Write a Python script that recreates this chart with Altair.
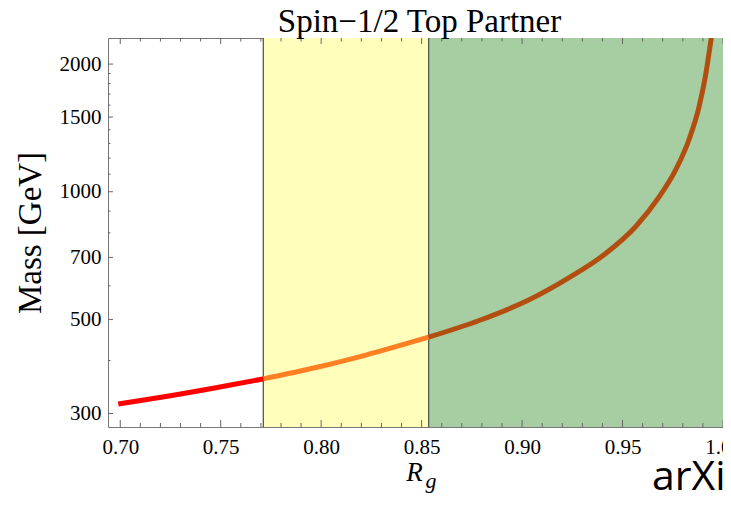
import altair as alt
import pandas as pd

# ---- data ----
R_vals = [0.699, 0.7227, 0.7476, 0.7712, 0.7974, 0.8222, 0.8535, 0.8786, 0.9035,
          0.9234, 0.9416, 0.9566, 0.9682, 0.9765, 0.9831, 0.9881, 0.9914, 0.9939, 0.9948]
M_vals = [316, 329, 345, 362, 385, 412, 454, 497, 556,
          627, 715, 828, 972, 1127, 1328, 1587, 1890, 2260, 2410]

band_starts = [0.7712, 0.8535]
band_ends = [0.8535, 1.0]
band_colors = ["#FFFFBB", "#A7CEA3"]

x_major = [0.70, 0.75, 0.80, 0.85, 0.90, 0.95, 1.00]
x_minor = [0.71, 0.72, 0.73, 0.74, 0.76, 0.77, 0.78, 0.79, 0.81, 0.82, 0.83, 0.84,
           0.86, 0.87, 0.88, 0.89, 0.91, 0.92, 0.93, 0.94, 0.96, 0.97, 0.98, 0.99]
y_major = [300, 500, 700, 1000, 1500, 2000]
y_minor = [400, 600, 800, 900, 1100, 1200, 1300, 1400, 1600, 1700, 1800, 1900]

seg_colors = ["#FF0000", "#FF7F24", "#B24F10"]

# ---- layout ----
W, H = 615, 389
XDOM = [0.6939, 1.0]
YDOM = [278.8, 2304]
SERIF = "Liberation Serif"

xs = alt.Scale(domain=XDOM, nice=False, zero=False)
ys = alt.Scale(type="log", domain=YDOM, nice=False)

# three line pieces, boundary points shared by neighbouring pieces
pts = list(zip(R_vals, M_vals))
seg_dfs = [
    pd.DataFrame([{"R": r, "M": m} for r, m in pts if r <= band_starts[0]]),
    pd.DataFrame([{"R": r, "M": m} for r, m in pts if band_starts[0] <= r <= band_starts[1]]),
    pd.DataFrame([{"R": r, "M": m} for r, m in pts if r >= band_starts[1]]),
]

# identical axis definition given to every layer so the merged axis stays enabled
xaxis = alt.Axis(values=x_major, format=".2f", ticks=False, domain=False, grid=False,
                 orient="bottom",
                 labelFont=SERIF, labelFontSize=21, labelColor="black",
                 labelPadding=9, labelFlush=False,
                 title="R", titleFont=SERIF, titleFontSize=27, titleFontStyle="italic",
                 titleFontWeight="normal", titleColor="black",
                 titleX=306, titleY=53, titleBaseline="alphabetic", titleAlign="center")
yaxis = alt.Axis(values=y_major, format="d", ticks=False, domain=False, grid=False,
                 orient="left",
                 labelFont=SERIF, labelFontSize=21, labelColor="black", labelPadding=7,
                 title="Mass [GeV]", titleFont=SERIF, titleFontSize=33,
                 titleFontWeight="normal", titleColor="black",
                 titleX=-68, titleY=H / 2, titleBaseline="alphabetic", titleAlign="center",
                 titleAngle=270)

layers = []
for s, e, c in zip(band_starts, band_ends, band_colors):
    bdf = pd.DataFrame({"x0": [s], "x1": [e]})
    layers.append(alt.Chart(bdf).mark_rect(color=c).encode(
        x=alt.X("x0:Q", scale=xs, axis=xaxis), x2="x1:Q",
        y=alt.value(0), y2=alt.value(H)))

edge_df = pd.DataFrame({"x": band_starts})
layers.append(alt.Chart(edge_df).mark_rule(color="#555", strokeWidth=1.3).encode(
    x=alt.X("x:Q", scale=xs, axis=xaxis), y=alt.value(0), y2=alt.value(H)))

def xticks(vals, y0, y1):
    return alt.Chart(pd.DataFrame({"v": vals})).mark_rule(color="#666", strokeWidth=1).encode(
        x=alt.X("v:Q", scale=xs, axis=xaxis), y=alt.value(y0), y2=alt.value(y1))

def yticks(vals, x0, x1):
    return alt.Chart(pd.DataFrame({"v": vals})).mark_rule(color="#666", strokeWidth=1).encode(
        y=alt.Y("v:Q", scale=ys, axis=yaxis), x=alt.value(x0), x2=alt.value(x1))

layers += [
    xticks(x_major, H, H - 7), xticks(x_minor, H, H - 4),
    xticks(x_major, 0, 6), xticks(x_minor, 0, 3.5),
    yticks(y_major, 0, 5), yticks(y_minor, 0, 2.5),
]

for df, c in zip(seg_dfs, seg_colors):
    layers.append(alt.Chart(df).mark_line(color=c, strokeWidth=5, strokeCap="butt",
                                          interpolate="monotone", clip=True).encode(
        x=alt.X("R:Q", scale=xs, axis=xaxis),
        y=alt.Y("M:Q", scale=ys, axis=yaxis)))

sub = alt.Chart(pd.DataFrame({"t": ["g"]})).mark_text(
    font=SERIF, fontSize=22, fontStyle="italic", color="black",
    align="center", baseline="alphabetic").encode(
    text="t:N", x=alt.value(323), y=alt.value(H + 61))

src = alt.Chart(pd.DataFrame({"t": ["arXiv"]})).mark_text(
    font="Open Sans", fontSize=41, color="black", align="left", baseline="alphabetic").encode(
    text="t:N", x=alt.value(544), y=alt.value(H + 63))

layers += [sub, src]

chart = alt.layer(*layers).properties(
    width=W, height=H,
    title=alt.TitleParams("Spin\u22121/2 Top Partner", font=SERIF, fontSize=33, fontWeight="normal",
                          color="black", anchor="middle", offset=0, dy=2, dx=4),
    padding={"left": 100, "top": 30, "right": 0, "bottom": 69},
    autosize=alt.AutoSizeParams(type="none"),
).configure_view(stroke="#777", strokeWidth=1)

chart.save("out.html", embed_options={"renderer": "svg", "actions": False})
